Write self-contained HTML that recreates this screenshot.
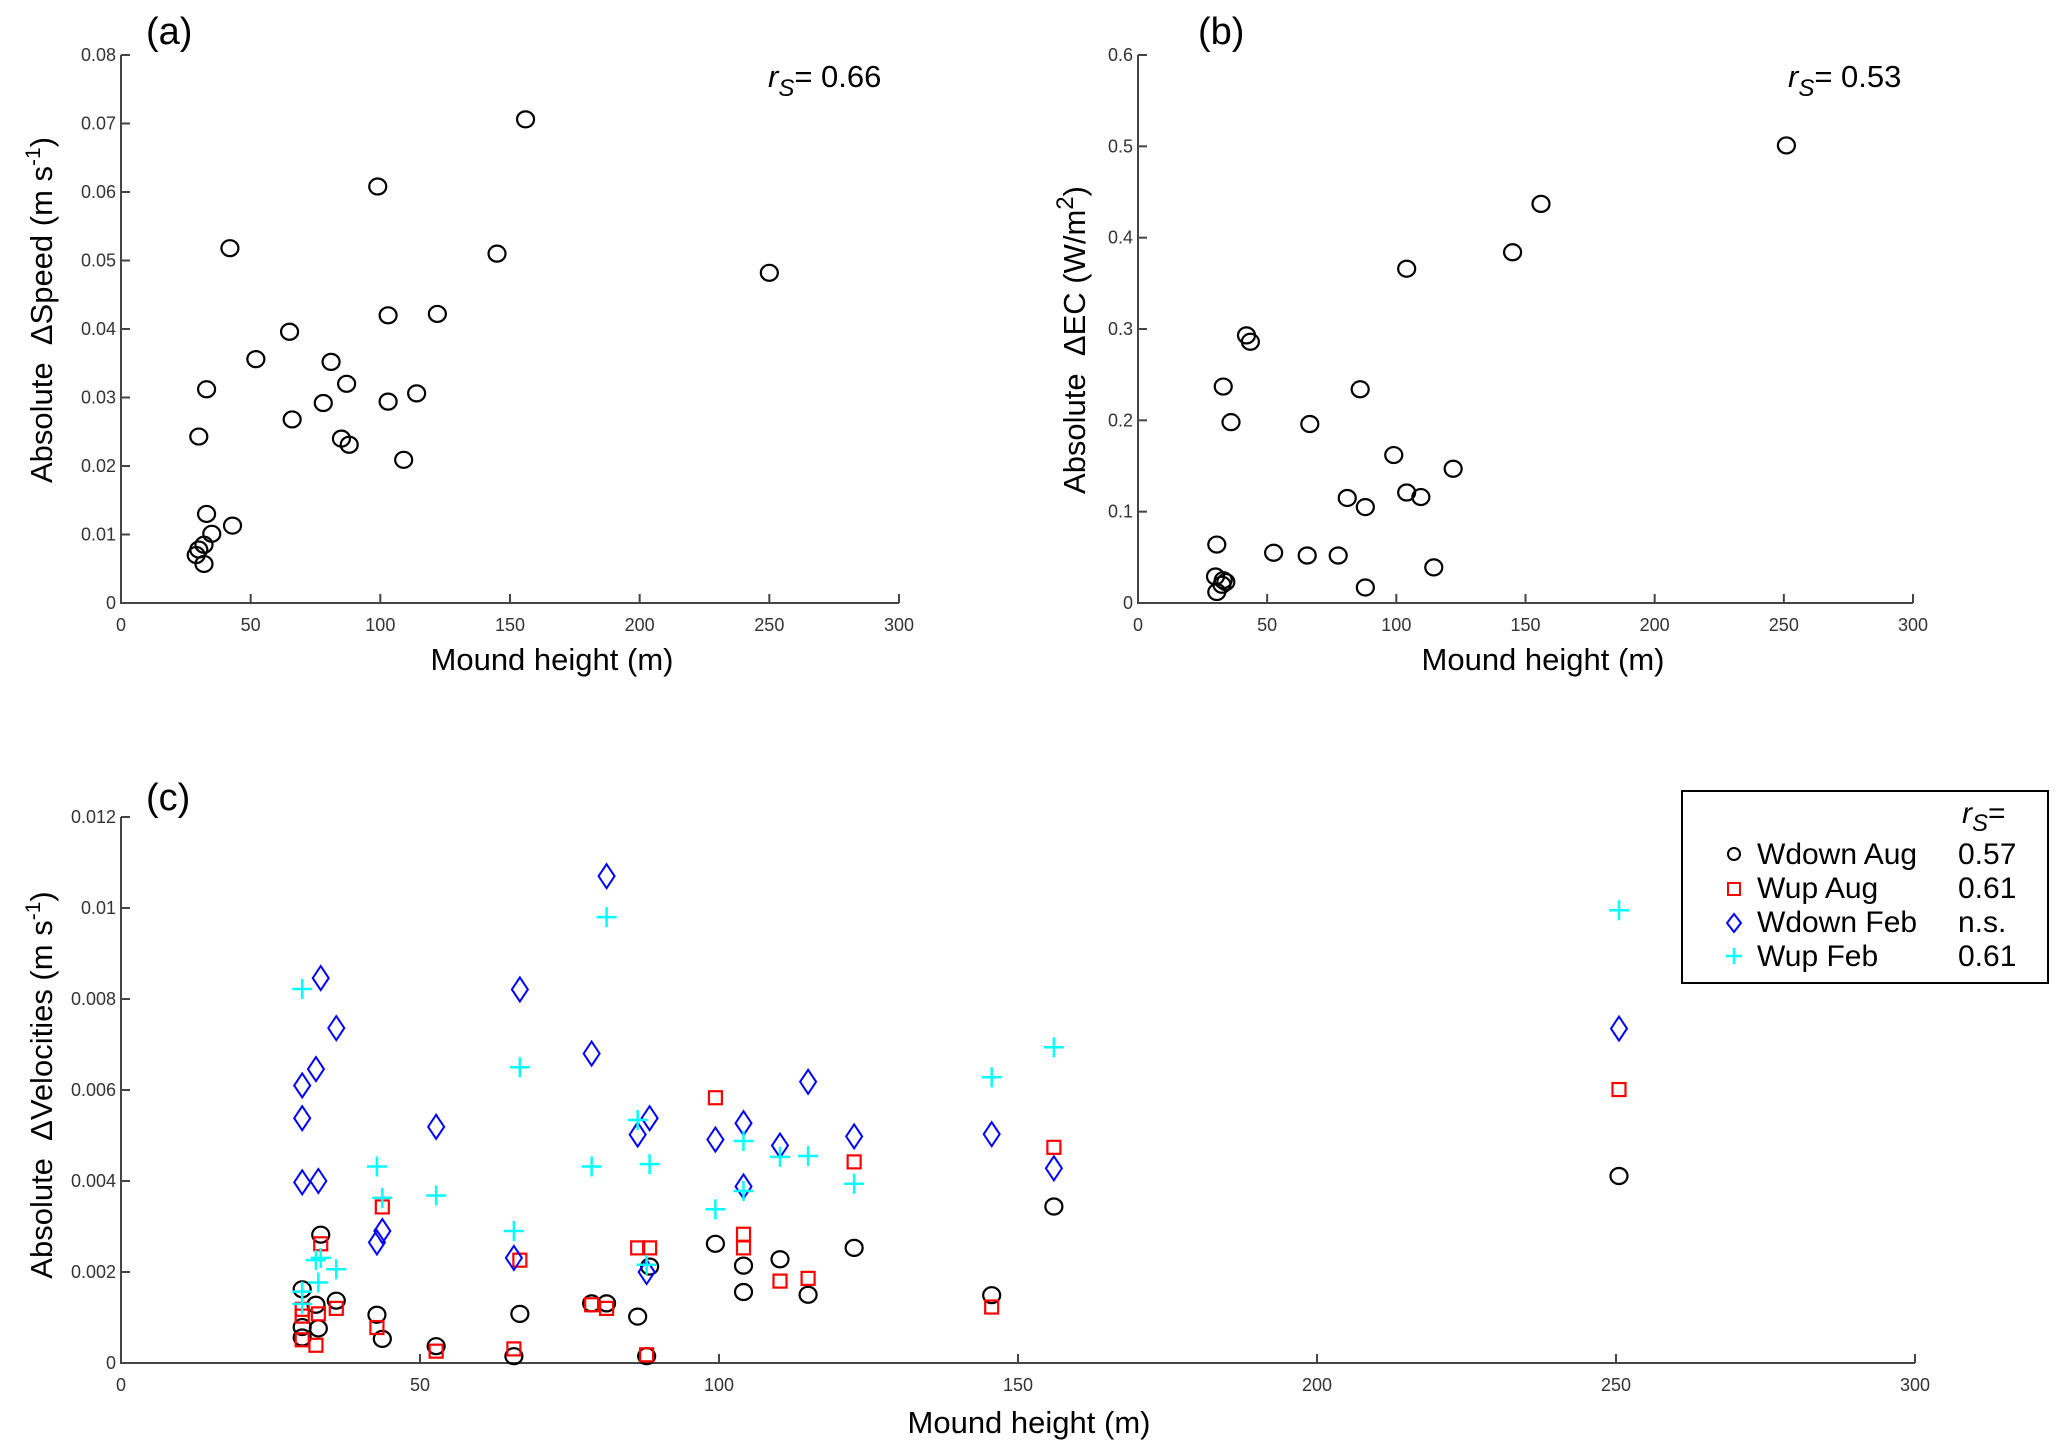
<!DOCTYPE html>
<html><head><meta charset="utf-8"><style>
html,body{margin:0;padding:0;background:#fff;}
svg{display:block;font-family:"Liberation Sans",sans-serif;}
.tick{font-size:18px;fill:#333;}
.axl{font-size:31px;fill:#000;}
.pl{font-size:38px;fill:#000;}
</style></head><body>
<svg id="fig" width="2067" height="1451" viewBox="0 0 2067 1451" xmlns="http://www.w3.org/2000/svg">
<g id="pa"></g>
<g id="pb"></g>
<g id="pc"></g>
<text class="pl" x="146" y="44">(a)</text>
<text class="pl" x="1198" y="44">(b)</text>
<text class="pl" x="146" y="810">(c)</text>
<text x="768" y="87" font-size="31"><tspan font-style="italic">r</tspan><tspan font-style="italic" font-size="24" dy="9">S</tspan><tspan dy="-9">= 0.66</tspan></text>
<text x="1788" y="87" font-size="31"><tspan font-style="italic">r</tspan><tspan font-style="italic" font-size="24" dy="9">S</tspan><tspan dy="-9">= 0.53</tspan></text>
<text class="axl" text-anchor="middle" transform="translate(52,310) rotate(-90)">Absolute &#160;ΔSpeed (m s<tspan font-size="21" dy="-12">-1</tspan><tspan dy="12">)</tspan></text>
<text class="axl" text-anchor="middle" transform="translate(1085,340) rotate(-90)">Absolute &#160;ΔEC (W/m<tspan font-size="24" dy="-12">2</tspan><tspan dy="12">)</tspan></text>
<text class="axl" text-anchor="middle" transform="translate(52,1085) rotate(-90)">Absolute &#160;ΔVelocities (m s<tspan font-size="21" dy="-12">-1</tspan><tspan dy="12">)</tspan></text>
<text class="axl" text-anchor="middle" x="552" y="670">Mound height (m)</text>
<text class="axl" text-anchor="middle" x="1543" y="670">Mound height (m)</text>
<text class="axl" text-anchor="middle" x="1029" y="1433">Mound height (m)</text>
<g>
<rect x="1682" y="791" width="366" height="192" fill="#fff" stroke="#000" stroke-width="2"/>
<text x="1962" y="823" font-size="30"><tspan font-style="italic">r</tspan><tspan font-style="italic" font-size="24" dy="8">S</tspan><tspan dy="-8">=</tspan></text>
<g><circle cx="1734" cy="854" r="6" fill="none" stroke="#000" stroke-width="2"/><text x="1757" y="864" font-size="30">Wdown Aug</text><text x="1958" y="864" font-size="30">0.57</text></g>
<g><rect x="1728" y="883" width="12" height="12" fill="none" stroke="#f00" stroke-width="2"/><text x="1757" y="898" font-size="30">Wup Aug</text><text x="1958" y="898" font-size="30">0.61</text></g>
<g><path d="M1734 914 L1741 923 L1734 932 L1727 923 Z" fill="none" stroke="#00f" stroke-width="2"/><text x="1757" y="932" font-size="30">Wdown Feb</text><text x="1958" y="932" font-size="30">n.s.</text></g>
<g><path d="M1734 948 V964 M1726 956 H1742" stroke="#0ff" stroke-width="2.5"/><text x="1757" y="966" font-size="30">Wup Feb</text><text x="1958" y="966" font-size="30">0.61</text></g>
</g>
</svg>
<script>
// Panel (a)
const aX = [30,33,33,30,29,32,32,35,43,42,52,65,66,78,81,87,85,88,99,103,103,109,114,122,145,156,250];
const aY = [0.0243,0.0312,0.013,0.0078,0.007,0.0085,0.0057,0.0101,0.0113,0.0518,0.0356,0.0396,0.0268,0.0292,0.0352,0.0320,0.0240,0.0231,0.0608,0.0420,0.0294,0.0209,0.0306,0.0422,0.0510,0.0706,0.0482];
const aYTicks = ["0","0.01","0.02","0.03","0.04","0.05","0.06","0.07","0.08"];
// Panel (b)
const bX = [251,156,145,104,42,43.5,33,86,36,66.5,99,122,104,109.5,81,88,30.5,52.5,65.5,77.5,114.5,30,33,32.5,30.5,88,34];
const bY = [0.501,0.437,0.384,0.366,0.293,0.286,0.237,0.234,0.198,0.196,0.162,0.147,0.121,0.116,0.115,0.105,0.064,0.055,0.052,0.052,0.039,0.029,0.025,0.020,0.012,0.017,0.023];
const bYTicks = ["0","0.1","0.2","0.3","0.4","0.5","0.6"];
const xTickVals = [0,50,100,150,200,250,300];
// Panel (c)
const cX = [33.4,30.3,30.3,30.3,32.6,33,36,42.8,43.7,52.7,65.7,66.7,78.7,81.2,86.4,88.4,87.9,99.4,104.1,104.1,110.2,114.9,122.6,145.6,156,250.5];
const wdownAug = [0.00282,0.00162,0.00079,0.00056,0.00128,0.00076,0.00137,0.00106,0.00053,0.00037,0.00015,0.00108,0.00131,0.00131,0.00102,0.00212,0.00015,0.00262,0.00214,0.00156,0.00228,0.0015,0.00253,0.00149,0.00344,0.00411];
const wupAug = [0.00262,0.00118,0.00103,0.00051,0.00039,0.00108,0.0012,0.00078,0.00343,0.00026,0.00031,0.00226,0.00128,0.0012,0.00253,0.00253,0.00018,0.00583,0.00283,0.00253,0.0018,0.00186,0.00442,0.00123,0.00474,0.00601];
const wdownFeb = [0.00846,0.0061,0.00538,0.00397,0.00646,0.004,0.00736,0.00265,0.0029,0.00519,0.00231,0.00821,0.0068,0.0107,0.00502,0.00538,0.002,0.00491,0.00527,0.00388,0.00478,0.00618,0.00498,0.00503,0.00428,0.00735];
const cXFeb2 = [30.3,30.3,32.6,33.4,33,36,42.8,43.7,52.7,65.7,66.7,78.7,81.2,86.4,88.4,87.9,99.4,104.1,104.1,110.2,114.9,122.6,145.6,156,250.5,30.3];
const wupFeb = [0.00822,0.00157,0.00226,0.00231,0.00177,0.00206,0.00432,0.00363,0.00368,0.0029,0.0065,0.00432,0.0098,0.00534,0.00437,0.00216,0.00338,0.00488,0.00378,0.00453,0.00455,0.00394,0.00628,0.00694,0.00995,0.0013];
const cYTicks = ["0","0.002","0.004","0.006","0.008","0.01","0.012"];
const cYTickVals = [0,0.002,0.004,0.006,0.008,0.01,0.012];

const NS = "http://www.w3.org/2000/svg";
function mk(tag, parent, attrs){ const e=document.createElementNS(NS,tag); for(const k in attrs) e.setAttribute(k,attrs[k]); parent.appendChild(e); return e; }
function scale(d0,d1,r0,r1){ return v => r0 + (v-d0)/(d1-d0)*(r1-r0); }

function axes(g, x0,x1,y0,y1, sx, sy, yVals, yLabs, name){
  const ax = mk('path', g, {d:`M${x0} ${y1} V${y0} H${x1}`, fill:'none', stroke:'#444', 'stroke-width':2});
  
  
  xTickVals.forEach((v,i)=>{
    const x = sx(v);
    if(v>0) mk('line', g, {x1:x,x2:x,y1:y0,y2:y0-9,stroke:'#444','stroke-width':2});
    const t = mk('text', g, {x:x, y:y0+28, 'text-anchor':'middle', class:'tick'});
    t.textContent = String(v);
    
    
  });
  yVals.forEach((v,i)=>{
    const y = sy(v);
    if(v>0) mk('line', g, {x1:x0,x2:x0+9,y1:y,y2:y,stroke:'#444','stroke-width':2});
    const t = mk('text', g, {x:x0-5, y:y+6, 'text-anchor':'end', class:'tick'});
    t.textContent = yLabs[i];
    
    
  });
}
function circ(g,x,y,stroke,name){
  const c = mk('ellipse', g, {cx:x, cy:y, rx:8.5, ry:8, fill:'none', stroke:stroke, 'stroke-width':2.2});
  
  
}
function sq(g,x,y,name){
  const c = mk('rect', g, {x:x-6.5, y:y-6.5, width:13, height:13, fill:'none', stroke:'#f00', 'stroke-width':2.2});
  
  
}
function dia(g,x,y,name){
  const c = mk('path', g, {d:`M${x} ${y-12} L${x+8} ${y} L${x} ${y+12} L${x-8} ${y} Z`, fill:'none', stroke:'#00f', 'stroke-width':2});
  
  
}
function plus(g,x,y,name){
  const c = mk('path', g, {d:`M${x} ${y-10} V${y+10} M${x-10} ${y} H${x+10}`, stroke:'#0ff', 'stroke-width':2.5});
  
  
}

// panel a
{
  const g=document.getElementById('pa');
  const sx=scale(0,300,121,899), sy=scale(0,0.08,603,55);
  axes(g,121,899,603,55,sx,sy,aYTicks.map(Number),aYTicks,'panel-a');
  aX.forEach((x,i)=>circ(g,sx(x),sy(aY[i]),'#000','point-a'));
}
// panel b
{
  const g=document.getElementById('pb');
  const sx=scale(0,300,1138,1913), sy=scale(0,0.6,603,55);
  axes(g,1138,1913,603,55,sx,sy,bYTicks.map(Number),bYTicks,'panel-b');
  bX.forEach((x,i)=>circ(g,sx(x),sy(bY[i]),'#000','point-b'));
}
// panel c
{
  const g=document.getElementById('pc');
  const sx=scale(0,300,121,1915), sy=scale(0,0.012,1363,817);
  axes(g,121,1915,1363,817,sx,sy,cYTickVals,cYTicks,'panel-c');
  cX.forEach((x,i)=>circ(g,sx(x),sy(wdownAug[i]),'#000','wdown-aug-point'));
  cX.forEach((x,i)=>sq(g,sx(x),sy(wupAug[i]),'wup-aug-point'));
  cX.forEach((x,i)=>dia(g,sx(x),sy(wdownFeb[i]),'wdown-feb-point'));
  cXFeb2.forEach((x,i)=>plus(g,sx(x),sy(wupFeb[i]),'wup-feb-point'));
}
</script>
</body></html>
